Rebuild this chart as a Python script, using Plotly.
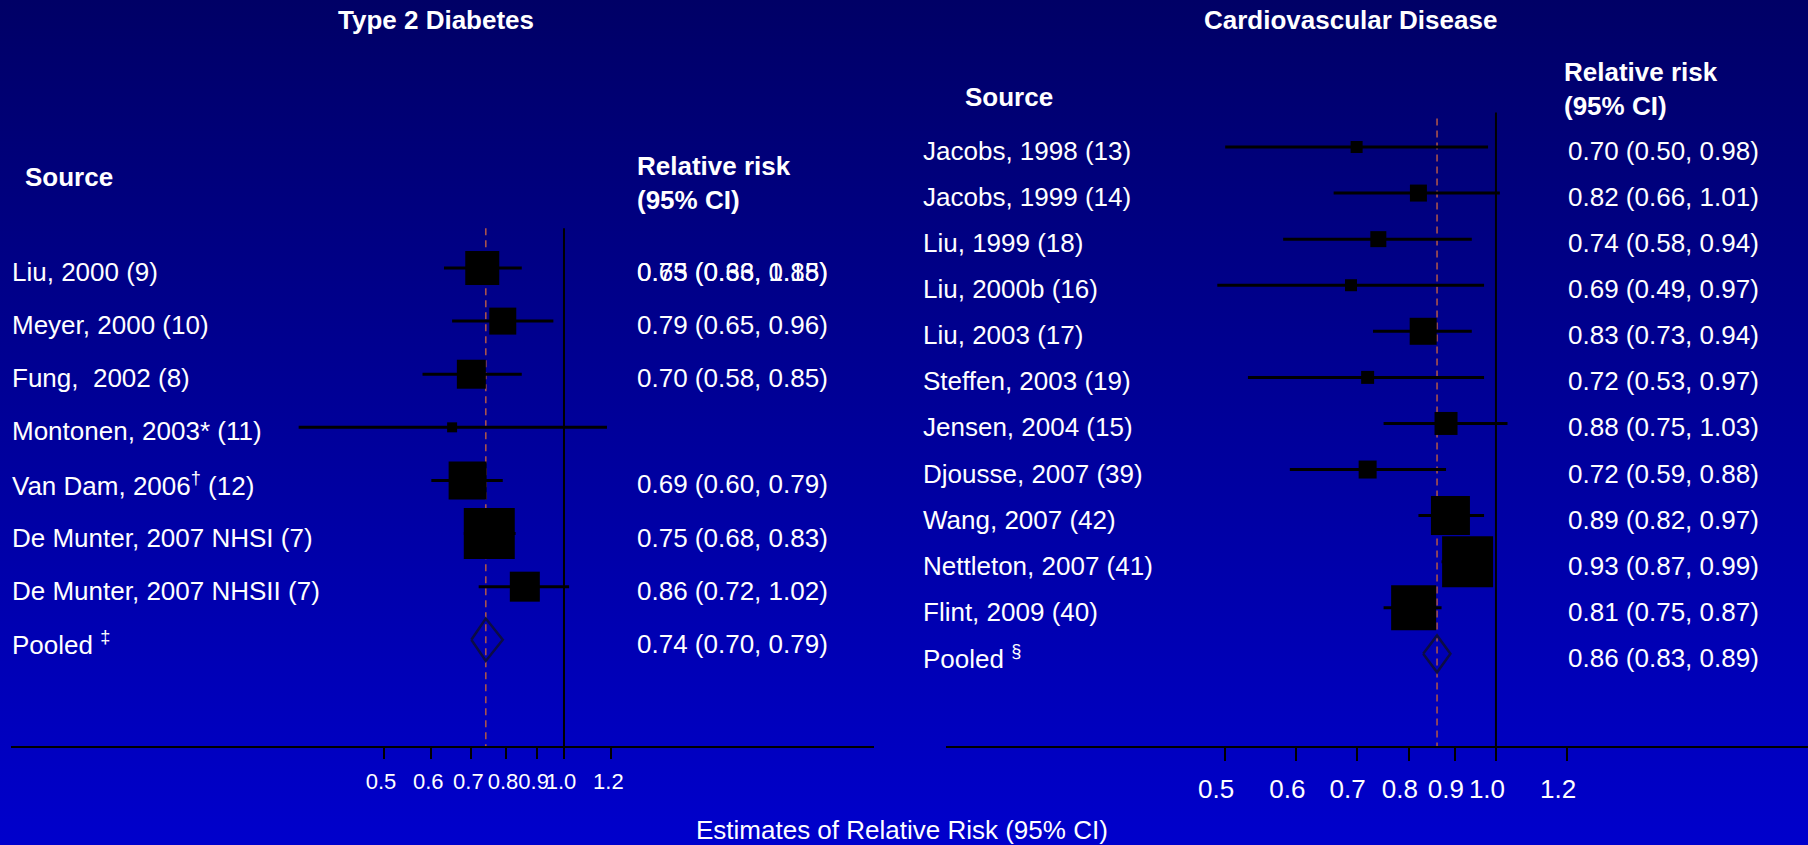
import plotly.graph_objects as go

W, H = 1808, 845
FONT = "Liberation Sans, Arial, Helvetica, sans-serif"

# ---------------- data ----------------
dm_title = "Type 2 Diabetes"
dm_sources = ["Liu, 2000 (9)", "Meyer, 2000 (10)", "Fung,\u00a0 2002 (8)", "Montonen, 2003* (11)",
              "Van Dam, 2006<sup>†</sup> (12)", "De Munter, 2007 NHSI (7)", "De Munter, 2007 NHSII (7)"]
dm_rr = [0.73, 0.79, 0.70, 0.65, 0.69, 0.75, 0.86]
dm_lo = [0.63, 0.65, 0.58, 0.36, 0.60, 0.68, 0.72]
dm_hi = [0.85, 0.96, 0.85, 1.18, 0.79, 0.83, 1.02]
dm_weight = [34, 27, 29, 10, 38, 51, 30]
dm_text_row = [0, 1, 2, 0, 4, 5, 6]   # in the source, Montonen's estimate is printed over Liu's row
dm_pooled = [0.74, 0.70, 0.79]
dm_pooled_label = "Pooled <sup>‡</sup>"

cvd_title = "Cardiovascular Disease"
cvd_sources = ["Jacobs, 1998 (13)", "Jacobs, 1999 (14)", "Liu, 1999 (18)", "Liu, 2000b (16)",
               "Liu, 2003 (17)", "Steffen, 2003 (19)", "Jensen, 2004 (15)", "Djousse, 2007 (39)",
               "Wang, 2007 (42)", "Nettleton, 2007 (41)", "Flint, 2009 (40)"]
cvd_rr = [0.70, 0.82, 0.74, 0.69, 0.83, 0.72, 0.88, 0.72, 0.89, 0.93, 0.81]
cvd_lo = [0.50, 0.66, 0.58, 0.49, 0.73, 0.53, 0.75, 0.59, 0.82, 0.87, 0.75]
cvd_hi = [0.98, 1.01, 0.94, 0.97, 0.94, 0.97, 1.03, 0.88, 0.97, 0.99, 0.87]
cvd_weight = [12, 17, 16, 12, 27, 13, 23, 18, 39, 51, 45]
cvd_text_row = list(range(len(cvd_sources)))
cvd_pooled = [0.86, 0.83, 0.89]
cvd_pooled_label = "Pooled <sup>§</sup>"

tick_vals = [0.5, 0.6, 0.7, 0.8, 0.9, 1.0, 1.2]
tick_text = ["0.5", "0.6", "0.7", "0.8", "0.9", "1.0", "1.2"]
x_title = "Estimates of Relative Risk (95% CI)"
# --------------------------------------

fig = go.Figure()

# background gradient on a full-page helper subplot
fig.add_trace(go.Scatter(
    x=[0, 1, 1, 0, 0], y=[0, 0, 1, 1, 0], mode="lines", fill="toself",
    line=dict(width=0, color="rgba(0,0,0,0)"),
    fillcolor="#000099",
    fillgradient=dict(type="vertical", colorscale=[[0, "#0000cc"], [1, "#000066"]]),
    xaxis="x", yaxis="y", hoverinfo="skip"))

annotations = []


def txt(x, y, text, xref="paper", yref="paper", size=26, bold=False, xanchor="left",
        yanchor="middle", yshift=0, align="left"):
    if bold:
        text = "<b>" + text.replace("<br>", "</b><br><b>") + "</b>"
    annotations.append(dict(x=x, y=y, xref=xref, yref=yref, text=text, showarrow=False,
                            xanchor=xanchor, yanchor=yanchor, yshift=yshift, align=align,
                            font=dict(family=FONT, size=size, color="white")))


def panel(xa, ya, sources, rr, lo, hi, weight, text_rows, pooled, pooled_label,
          bottom_row, label_x, value_x, dash_top):
    n = len(sources)
    rows = list(range(n))
    est, plo, phi = pooled
    # reference lines
    fig.add_trace(go.Scatter(x=[est, est], y=[dash_top, bottom_row], mode="lines",
                             line=dict(color="#a8524c", width=1.6, dash="7px,5px"),
                             xaxis=xa, yaxis=ya, hoverinfo="skip"))
    fig.add_trace(go.Scatter(x=[1, 1], y=[-0.75, bottom_row], mode="lines",
                             line=dict(color="black", width=2),
                             xaxis=xa, yaxis=ya, hoverinfo="skip"))
    # confidence intervals
    xs, ys = [], []
    for i in rows:
        xs += [lo[i], hi[i], None]
        ys += [i, i, None]
    fig.add_trace(go.Scatter(x=xs, y=ys, mode="lines", line=dict(color="black", width=3),
                             xaxis=xa, yaxis=ya, hoverinfo="skip"))
    # study boxes
    fig.add_trace(go.Scatter(x=rr, y=rows, mode="markers",
                             marker=dict(symbol="square", size=weight, color="black",
                                         opacity=1, line=dict(width=0)),
                             xaxis=xa, yaxis=ya, hoverinfo="skip"))
    # pooled diamond
    fig.add_trace(go.Scatter(x=[plo, est, phi, est, plo], y=[n, n - 0.4, n, n + 0.4, n],
                             mode="lines", line=dict(color="#0c0c45", width=2.5),
                             xaxis=xa, yaxis=ya, hoverinfo="skip"))
    # texts
    for i in rows:
        txt(label_x / W, i, sources[i], yref=ya, yshift=-4)
    for i in rows:
        txt(value_x / W, text_rows[i], f"{rr[i]:.2f} ({lo[i]:.2f}, {hi[i]:.2f})", yref=ya, yshift=-4)
    txt(label_x / W, n, pooled_label, yref=ya, yshift=-4)
    txt(value_x / W, n, f"{est:.2f} ({plo:.2f}, {phi:.2f})", yref=ya, yshift=-4)


panel("x2", "y2", dm_sources, dm_rr, dm_lo, dm_hi, dm_weight, dm_text_row, dm_pooled,
      dm_pooled_label, bottom_row=9, label_x=10, value_x=635, dash_top=-0.75)
panel("x3", "y3", cvd_sources, cvd_rr, cvd_lo, cvd_hi, cvd_weight, cvd_text_row, cvd_pooled,
      cvd_pooled_label, bottom_row=13, label_x=921, value_x=1566, dash_top=-0.62)

# headers
txt(436 / W, 1 - 20 / H, dm_title, bold=True, xanchor="center")
txt(1350 / W, 1 - 20 / H, cvd_title, bold=True, xanchor="center")
txt(23 / W, 1 - 177 / H, "Source", bold=True)
txt(635 / W, 1 - 183 / H, "Relative risk<br>(95% CI)", bold=True)
txt(963 / W, 1 - 97 / H, "Source", bold=True)
txt(1562 / W, 1 - 89 / H, "Relative risk<br>(95% CI)", bold=True)
txt(902 / W, 1 - 830 / H, x_title, xanchor="center")

axis_common = dict(type="log", showline=True, linecolor="black", linewidth=2,
                   ticks="outside", tickcolor="black", tickwidth=2,
                   tickmode="array", tickvals=tick_vals, ticktext=tick_text, tickangle=0,
                   showgrid=False, zeroline=False, fixedrange=True)

fig.update_layout(
    width=W, height=H,
    margin=dict(l=0, r=0, t=0, b=0),
    paper_bgcolor="#000099", plot_bgcolor="rgba(0,0,0,0)",
    showlegend=False, hovermode=False,
    font=dict(family=FONT, color="white"),
    annotations=annotations,
    xaxis=dict(domain=[0, 1], range=[0, 1], visible=False, fixedrange=True),
    yaxis=dict(domain=[0, 1], range=[0, 1], visible=False, fixedrange=True),
    xaxis2=dict(domain=[11 / W, 874 / W], range=[-0.9247, 0.5184], anchor="y2",
                ticklen=11, tickfont=dict(family=FONT, size=22, color="white"),
                ticklabelstandoff=4, ticklabelshift=-3, **axis_common),
    yaxis2=dict(domain=[1 - 746 / H, 1], range=[9, -5.046], visible=False, anchor="x2",
                fixedrange=True),
    xaxis3=dict(domain=[946 / W, 1], range=[-0.6114, 0.3469], anchor="y3",
                ticklen=13, tickfont=dict(family=FONT, size=26, color="white"),
                ticklabelstandoff=6, ticklabelshift=-9, **axis_common),
    yaxis3=dict(domain=[1 - 746 / H, 1], range=[13, -3.19], visible=False, anchor="x3",
                fixedrange=True),
)

fig.write_html("out.html", config={"displayModeBar": False},
               post_script="document.body.style.margin='0';document.body.style.padding='0';"
                           "document.body.style.overflow='hidden';"
                           "document.body.style.background='#000099';")
